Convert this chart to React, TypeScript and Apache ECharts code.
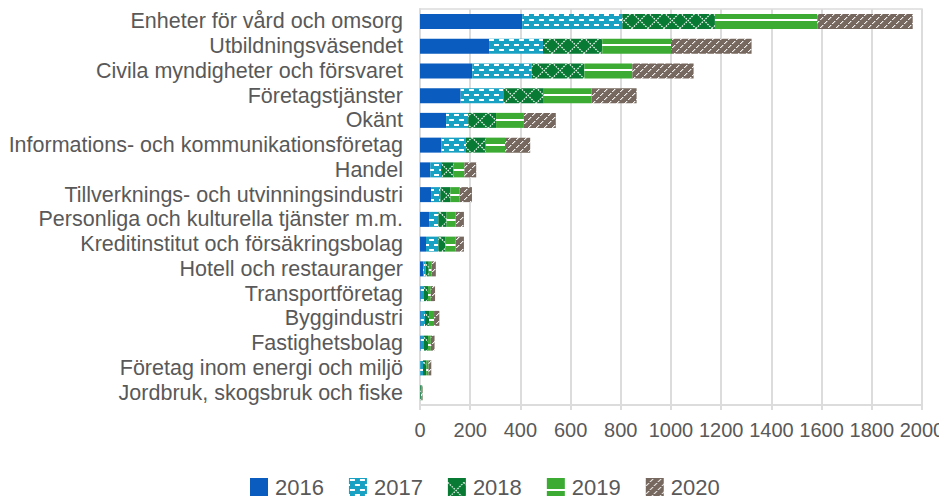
import React, { useEffect, useRef } from 'react';
import * as echarts from 'echarts';

const categories = [
  'Enheter för vård och omsorg',
  'Utbildningsväsendet',
  'Civila myndigheter och försvaret',
  'Företagstjänster',
  'Okänt',
  'Informations- och kommunikationsföretag',
  'Handel',
  'Tillverknings- och utvinningsindustri',
  'Personliga och kulturella tjänster m.m.',
  'Kreditinstitut och försäkringsbolag',
  'Hotell och restauranger',
  'Transportföretag',
  'Byggindustri',
  'Fastighetsbolag',
  'Företag inom energi och miljö',
  'Jordbruk, skogsbruk och fiske',
];
const years = ['2016', '2017', '2018', '2019', '2020'];
const v2016 = [407, 275, 208, 162, 104, 86, 41, 44, 36, 24, 13, 3, 3, 3, 1, 0];
const v2017 = [399, 215, 237, 170, 88, 97, 43, 37, 37, 49, 9, 13, 17, 13, 11, 1];
const v2018 = [369, 236, 210, 161, 111, 79, 50, 40, 33, 29, 13, 16, 16, 16, 13, 4];
const v2019 = [408, 274, 191, 191, 111, 77, 43, 37, 36, 40, 11, 11, 20, 11, 9, 4];
const v2020 = [380, 321, 244, 179, 127, 100, 47, 49, 33, 33, 17, 17, 21, 15, 11, 2];
const seriesValues = [v2016, v2017, v2018, v2019, v2020];
const axisMin = 0;
const axisMax = 2000;
const axisStep = 200;

const FONT = '"Liberation Sans", Arial, sans-serif';
const TEXT = '#595959';
const GRID = '#dcdcdc';

function makeCanvas(w: number, h: number, bg: string, draw: (ctx: CanvasRenderingContext2D) => void) {
  const c = document.createElement('canvas');
  c.width = w;
  c.height = h;
  const ctx = c.getContext('2d') as CanvasRenderingContext2D;
  ctx.fillStyle = bg;
  ctx.fillRect(0, 0, w, h);
  draw(ctx);
  return c;
}

function buildFills() {
  const solid = '#0a5cbf';
  const c2017 = makeCanvas(10, 10, '#19a1c4', (ctx) => {
    ctx.fillStyle = '#ffffff';
    ctx.fillRect(1, 1, 5, 2);
    ctx.fillRect(6, 6, 4, 2);
    ctx.fillRect(0, 6, 1, 2);
  });
  const c2018 = makeCanvas(16, 25, '#087a34', (ctx) => {
    ctx.strokeStyle = '#ffffff';
    ctx.lineWidth = 1.2;
    ctx.setLineDash([1.5, 1.2]);
    ctx.beginPath();
    ctx.moveTo(0, 4.5);
    ctx.lineTo(16, 20.5);
    ctx.moveTo(0, 20.5);
    ctx.lineTo(16, 4.5);
    ctx.stroke();
  });
  const c2019 = makeCanvas(4, 25, '#3cab34', (ctx) => {
    ctx.fillStyle = '#ffffff';
    ctx.fillRect(0, 11, 4, 2);
  });
  const c2020 = makeCanvas(8, 8, '#76685e', (ctx) => {
    for (let i = 0; i < 8; i++) {
      if (i % 4 === 3) continue;
      ctx.fillStyle = 'rgba(255,255,255,0.9)';
      ctx.fillRect(i, 7 - i, 1, 1);
      ctx.fillStyle = 'rgba(255,255,255,0.35)';
      ctx.fillRect((i + 1) % 8, 7 - i, 1, 1);
    }
  });
  return [
    solid,
    { image: c2017, repeat: 'repeat' },
    { image: c2018, repeat: 'repeat', x: 0, y: 0 },
    { image: c2019, repeat: 'repeat', x: 0, y: 0 },
    { image: c2020, repeat: 'repeat' },
  ];
}

export default function App() {
  const ref = useRef<HTMLDivElement>(null);
  useEffect(() => {
    if (!ref.current) return;
    const chart = echarts.init(ref.current, null, { renderer: 'svg' });
    const fills = buildFills();
    chart.setOption({
      animation: false,
      backgroundColor: '#ffffff',
      textStyle: { fontFamily: FONT },
      grid: {
        left: 412,
        right: 25,
        top: 1,
        bottom: 99,
        show: true,
        borderColor: GRID,
        borderWidth: 1.5,
        containLabel: false,
        outerBoundsMode: 'none',
      },
      legend: {
        left: 242,
        top: 468,
        itemWidth: 18,
        itemHeight: 18,
        itemGap: 25,
        icon: 'rect',
        padding: 0,
        textStyle: { fontSize: 22, color: TEXT, fontFamily: FONT, padding: [4, 0, 0, 2] },
        data: years,
      },
      xAxis: {
        type: 'value',
        min: axisMin,
        max: axisMax,
        interval: axisStep,
        axisLine: { show: true, lineStyle: { color: GRID, width: 2 } },
        axisTick: { show: true, length: 5, lineStyle: { color: GRID, width: 2 } },
        splitLine: { show: true, lineStyle: { color: GRID, width: 2 } },
        axisLabel: {
          fontSize: 20,
          color: TEXT,
          fontFamily: FONT,
          margin: 15,
          showMaxLabel: true,
          formatter: (v: number) => String(v),
        },
      },
      yAxis: {
        type: 'category',
        inverse: true,
        data: categories,
        axisLine: { show: true, lineStyle: { color: GRID, width: 2 } },
        axisTick: { show: false },
        axisLabel: { fontSize: 21.5, color: TEXT, fontFamily: FONT, margin: 17, interval: 0 },
      },
      series: years.map((y, i) => ({
        name: y,
        type: 'bar',
        stack: 'total',
        barWidth: 15,
        data: seriesValues[i],
        itemStyle: { color: fills[i] },
        emphasis: { disabled: true },
      })),
    });
    return () => chart.dispose();
  }, []);
  return <div ref={ref} style={{ width: 939, height: 496 }} />;
}
